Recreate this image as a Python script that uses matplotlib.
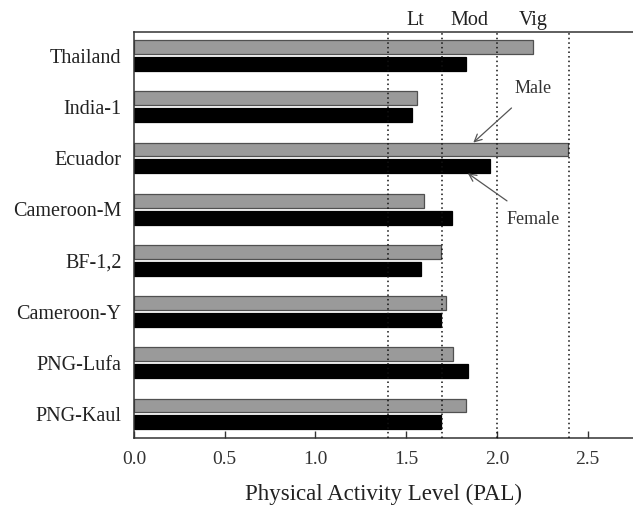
import matplotlib
matplotlib.use("Agg")
import matplotlib.pyplot as plt
import numpy as np

plt.rcParams['font.family'] = ['Liberation Serif', 'DejaVu Serif']

groups = ['Thailand', 'India-1', 'Ecuador', 'Cameroon-M', 'BF-1,2',
          'Cameroon-Y', 'PNG-Lufa', 'PNG-Kaul']
male = [2.20, 1.56, 2.39, 1.60, 1.69, 1.72, 1.76, 1.83]
female = [1.83, 1.53, 1.96, 1.75, 1.58, 1.69, 1.84, 1.69]

# PAL category cut-offs and labels
cutoffs = [1.4, 1.7, 2.0, 2.4]
levels = ['Lt', 'Mod', 'Vig']

fig = plt.figure(figsize=(6.33, 5.13), dpi=100)
ax = fig.add_axes([134 / 633, 75 / 513, 499 / 633, 406 / 513])

y = np.arange(len(groups))
h = 0.27
off = 0.165
ax.barh(y - off, male, height=h, color='#9a9a9a', edgecolor='#505050', lw=0.9, zorder=2)
ax.barh(y + off, female, height=h, color='black', edgecolor='black', lw=0.9, zorder=2)

for c in cutoffs:
    ax.axvline(c, color='#111111', ls=(0, (1, 2)), lw=1.1, zorder=3)

for i, lab in enumerate(levels):
    xc = (cutoffs[i] + cutoffs[i + 1]) / 2
    ax.text(xc, 1.005, lab, transform=ax.get_xaxis_transform(), ha='center',
            va='bottom', fontsize=14.5, color='#222222')

ax.set_xlim(0, 2.75)
ax.set_ylim(len(groups) - 1 + 0.47, -0.46)
ax.set_yticks(y)
ax.set_yticklabels(groups, fontsize=14.5, color='#222222')
ax.set_xticks([0, 0.5, 1.0, 1.5, 2.0, 2.5])
ax.set_xticklabels(['0.0', '0.5', '1.0', '1.5', '2.0', '2.5'], fontsize=14, color='#333333')
ax.tick_params(axis='x', direction='in', length=5, width=1, pad=9, color='#333333')
ax.tick_params(axis='y', length=0, pad=9)
ax.set_xlabel('Physical Activity Level (PAL)', fontsize=16.5, color='#222222', labelpad=12)

ax.spines['right'].set_visible(False)
for s in ['left', 'top', 'bottom']:
    ax.spines[s].set_color('#333333')
    ax.spines[s].set_linewidth(1.1)

ax.annotate('Male', xy=(1.87, 2 - off - h / 2), xytext=(2.2, 0.64),
            fontsize=13, color='#333333', ha='center', va='center',
            arrowprops=dict(arrowstyle='->', color='#555555', lw=0.9,
                            shrinkA=9, shrinkB=0))
ax.annotate('Female', xy=(1.84, 2 + off + h / 2), xytext=(2.2, 3.2),
            fontsize=13, color='#333333', ha='center', va='center',
            arrowprops=dict(arrowstyle='->', color='#555555', lw=0.9,
                            shrinkA=9, shrinkB=0))

fig.savefig('out.png', dpi=100)
